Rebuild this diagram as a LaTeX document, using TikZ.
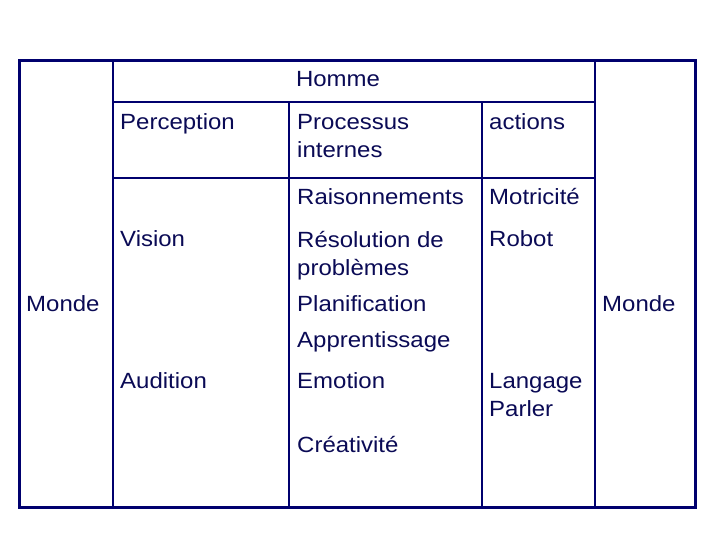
\documentclass[tikz,border=0pt]{standalone}
\usepackage{fontspec}
\setmainfont{Liberation Sans}[FakeStretch=1.09]
\definecolor{trait}{RGB}{0,0,110}
\definecolor{encre}{RGB}{10,10,85}
\tikzset{
  cell/.style={anchor=base west, align=left, inner sep=0pt, text=encre,
    font=\fontsize{22}{28}\selectfont},
  cadre/.style={draw=trait, line width=3pt},
  grille/.style={draw=trait, line width=2pt}
}
\begin{document}
\begin{tikzpicture}[x=1pt,y=-1pt]
  \useasboundingbox (0,0) rectangle (720,540);
  % cadre et grille
  \coordinate (no) at (19,61);
  \coordinate (se) at (695,507);
  \draw[grille] (113,61) -- (113,507)
                (595,61) -- (595,507)
                (113,102) -- (595,102)
                (113,178) -- (595,178)
                (289,102) -- (289,507)
                (482,102) -- (482,507);
  \draw[cadre] (no) rectangle (se);
  % textes (base = derniere ligne)
  \node[cell, anchor=base] (homme) at (338,87) {Homme};
  \node[cell] (perception) at (120,130) {Perception};
  \node[cell] (processus) at (297,158) {Processus\\internes};
  \node[cell] (actions) at (489,130) {actions};
  \node[cell] (raison) at (297,205) {Raisonnements};
  \node[cell] (motricite) at (489,205) {Motricité};
  \node[cell] (vision) at (120,247) {Vision};
  \node[cell] (resolution) at (297,275) {Résolution de\\problèmes};
  \node[cell] (robot) at (489,247) {Robot};
  \node[cell] (mondeg) at (26,311) {Monde};
  \node[cell] (planif) at (297,311) {Planification};
  \node[cell] (monded) at (602,311) {Monde};
  \node[cell] (apprent) at (297,347) {Apprentissage};
  \node[cell] (audition) at (120,388) {Audition};
  \node[cell] (emotion) at (297,388) {Emotion};
  \node[cell] (langage) at (489,416) {Langage\\Parler};
  \node[cell] (creativite) at (297,452) {Créativité};
\end{tikzpicture}
\end{document}
